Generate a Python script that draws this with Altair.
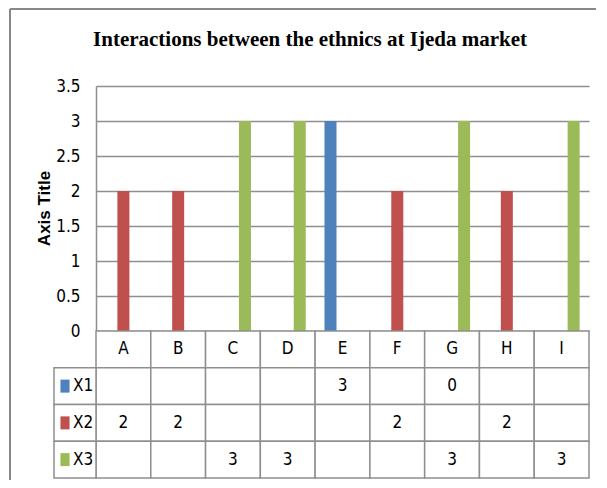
import altair as alt
import pandas as pd

categories = ["A", "B", "C", "D", "E", "F", "G", "H", "I"]
series = ["X1", "X2", "X3"]
x1 = [None, None, None, None, 3, None, 0, None, None]
x2 = [2, 2, None, None, None, 2, None, 2, None]
x3 = [None, None, 3, 3, None, None, 3, None, 3]
colors = ["#4F81BD", "#C0504D", "#9BBB59"]
y_ticks = [0, 0.5, 1, 1.5, 2, 2.5, 3, 3.5]
title_text = "Interactions between the ethnics at Ijeda market"
y_title = "Axis Title"

SANS = "Liberation Sans Narrow, DejaVu Sans Condensed, Liberation Sans, sans-serif"
GRID = "#8f8f8f"

rows = []
for s, vals in zip(series, [x1, x2, x3]):
    for c, v in zip(categories, vals):
        if v is not None:
            rows.append({"cat": c, "series": s, "value": v, "row": s, "label": str(v)})
bars_df = pd.DataFrame(rows)
header_df = pd.DataFrame({"cat": categories, "row": ["hdr"] * len(categories)})
cells_df = pd.DataFrame([{"cat": c, "row": s} for s in series for c in categories])
legend_df = pd.DataFrame({"row": series, "series": series})
dummy = pd.DataFrame({"a": [0]})

xscale = alt.Scale(domain=categories, paddingInner=0, paddingOuter=0)
X = alt.X("cat:N", scale=xscale, axis=None)
color = alt.Color("series:N", scale=alt.Scale(domain=series, range=colors), legend=None)
rowscale = alt.Scale(domain=["hdr"] + series, range=[245, 392], paddingInner=0, paddingOuter=0)
YR = alt.Y("row:N", scale=rowscale, axis=None)

bars = alt.Chart(bars_df).mark_bar().encode(
    x=X,
    xOffset=alt.XOffset("series:N", scale=alt.Scale(domain=series, paddingInner=0, paddingOuter=0.78)),
    y=alt.Y("value:Q", scale=alt.Scale(domain=[0, 3.5]),
            axis=alt.Axis(values=y_ticks, format=".1~f", title=y_title, grid=True,
                          gridColor=GRID, gridWidth=1.5, domain=True, domainColor=GRID,
                          domainWidth=1.5, ticks=False, labelPadding=16,
                          labelFont=SANS, labelFontSize=17, labelColor="#000",
                          titleFont="Liberation Sans", titleFontSize=17, titleFontWeight="bold",
                          titleColor="#000", titleX=-52, titleY=122, titleAlign="center",
                          titleBaseline="middle", titleAngle=270)),
    color=color,
)

header_cells = alt.Chart(header_df).mark_rect(fill="white", stroke=GRID, strokeWidth=1.5).encode(x=X, y=YR)
body_cells = alt.Chart(cells_df).mark_rect(fill="white", stroke=GRID, strokeWidth=1.5).encode(x=X, y=YR)
legend_cells = alt.Chart(legend_df).mark_rect(fill="white", stroke=GRID, strokeWidth=1.5).encode(
    x=alt.value(-42), x2=alt.value(0), y=YR)
header_text = alt.Chart(header_df).mark_text(font=SANS, fontSize=17, color="#000").encode(
    x=X, y=YR, text="cat:N")
value_text = alt.Chart(bars_df).mark_text(font=SANS, fontSize=17, color="#000").encode(
    x=X, y=YR, text="label:N")
legend_sq = alt.Chart(legend_df).mark_point(
    shape="M-0.7,-1L0.7,-1L0.7,1L-0.7,1Z", filled=True, size=169, opacity=1
).encode(x=alt.value(-31), y=YR, color=color)
legend_text = alt.Chart(legend_df).mark_text(font=SANS, fontSize=17, color="#000", align="left").encode(
    x=alt.value(-23), y=YR, text="row:N")

frame_left = alt.Chart(dummy).mark_rule(color="#888888", strokeWidth=2).encode(
    x=alt.value(-86), y=alt.value(-77), y2=alt.value(394))
frame_top = alt.Chart(dummy).mark_rule(color="#888888", strokeWidth=2).encode(
    x=alt.value(-86), x2=alt.value(500), y=alt.value(-77))
title = alt.Chart(dummy).mark_text(font="Liberation Serif", fontSize=21, fontWeight="bold",
                                   color="#000", align="center", baseline="alphabetic").encode(
    x=alt.value(214), y=alt.value(-40), text=alt.value(title_text))

chart = alt.layer(
    bars, header_cells, body_cells, legend_cells, header_text, value_text,
    legend_sq, legend_text, frame_left, frame_top, title
).resolve_scale(y="independent").properties(
    width=493, height=245, padding={"left": 1, "top": 0, "right": 0, "bottom": 0}
).configure_view(stroke=None)

chart.save("out.html", embed_options={"renderer": "svg", "actions": False})
